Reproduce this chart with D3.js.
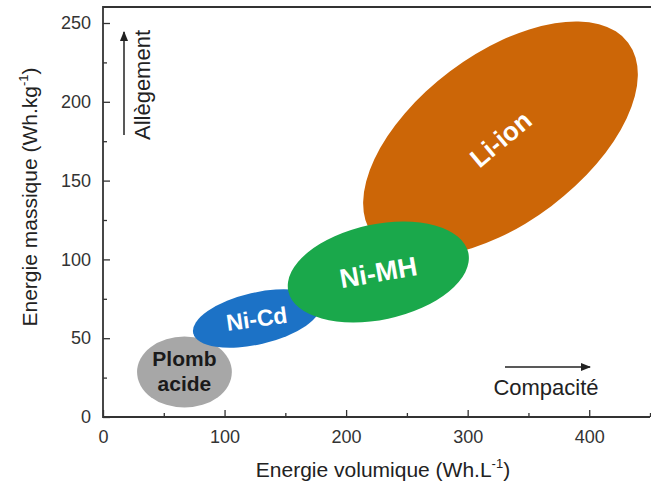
<!DOCTYPE html>
<html><head><meta charset="utf-8">
<script src="https://cdn.jsdelivr.net/npm/d3@7"></script>
<style>
body{margin:0;background:#fff;}
text{font-family:"Liberation Sans",Arial,sans-serif;}
</style></head>
<body><svg id="c" width="651" height="486"></svg>
<script>
// ---- data ----
const technologies = ["Plomb acide", "Ni-Cd", "Ni-MH", "Li-ion"];
// extents of each domain (Wh.L-1 and Wh.kg-1)
const volMin  = [28, 74, 152, 214];
const volMax  = [106, 179, 301, 440];
const massMin = [6, 44, 60, 102];
const massMax = [51, 81, 124, 251];
const xTicks = [0, 100, 200, 300, 400];
const yTicks = [0, 50, 100, 150, 200, 250];
const xMinor = [50, 150, 250, 350, 450];
const yMinor = [25, 75, 125, 175, 225];

// ---- styles ----
const fills = ["#a7a7a7", "#1c72c6", "#1aa84b", "#cc6607"];
const tilt  = [0, 13, 12, 37];
const labelColor = ["#1a1a1a", "#fff", "#fff", "#fff"];
const labelSize = [21, 23, 27, 26];
const labelRot = [0, -8, -10, -40];
const drawOrder = [3, 0, 1, 2];

const svg = d3.select("#c");
const x = d3.scaleLinear().domain([0, 450]).range([103, 650]);
const y = d3.scaleLinear().domain([0, 250]).range([417, 23]);
const yTop = 7;

const g = svg.append("g");
drawOrder.forEach(i => {
  const x0 = x(volMin[i]), x1 = x(volMax[i]);
  const y0 = y(massMax[i]), y1 = y(massMin[i]);
  const cx = (x0 + x1) / 2, cy = (y0 + y1) / 2;
  const hw = (x1 - x0) / 2, hh = (y1 - y0) / 2;
  const th = tilt[i] * Math.PI / 180;
  let a, b;
  if (tilt[i] === 0) { a = hw; b = hh; }
  else {
    const s = (hw*hw + hh*hh) / 2, d = (hw*hw - hh*hh) / (2 * Math.cos(2*th));
    a = Math.sqrt(s + d); b = Math.sqrt(Math.max(s - d, 1));
  }
  g.append("ellipse")
    .attr("transform", `translate(${cx},${cy}) rotate(${-tilt[i]})`)
    .attr("rx", a).attr("ry", b).attr("fill", fills[i]);
});

// labels
technologies.forEach((t, i) => {
  const cx = (x(volMin[i]) + x(volMax[i])) / 2;
  const cy = (y(massMax[i]) + y(massMin[i])) / 2;
  const txt = g.append("text")
    .attr("transform", `translate(${cx},${cy}) rotate(${labelRot[i]})`)
    .attr("text-anchor", "middle")
    .attr("font-weight", "bold")
    .attr("font-size", labelSize[i])
    .attr("fill", labelColor[i]);
  const words = t.split(" ");
  if (words.length === 2) {
    txt.append("tspan").attr("x", 0).attr("y", -6).text(words[0]);
    txt.append("tspan").attr("x", 0).attr("y", 19).text(words[1]);
  } else {
    txt.attr("dy", "0.36em").text(t);
  }
});

// axes
const axisColor = "#333";
const xAxis = svg.append("g").attr("transform", `translate(0,${y(0)})`)
  .call(d3.axisBottom(x).tickValues(xTicks).tickSizeInner(-7).tickSizeOuter(0).tickPadding(13));
const yAxis = svg.append("g").attr("transform", `translate(${x(0)},0)`)
  .call(d3.axisLeft(y).tickValues(yTicks).tickSizeInner(-7).tickSizeOuter(0).tickPadding(12));
[xAxis, yAxis].forEach(ax => {
  ax.select(".domain").remove();
  ax.selectAll("line").attr("stroke", axisColor).attr("stroke-width", 1.3);
  ax.selectAll("text").attr("font-size", 18).attr("fill", "#333")
    .style("font-family", "'Liberation Sans',Arial,sans-serif");
});
svg.append("g").attr("transform", `translate(0,${y(0)})`)
  .call(d3.axisBottom(x).tickValues(xMinor).tickSizeInner(-4).tickSizeOuter(0).tickFormat(""))
  .call(a => { a.select(".domain").remove(); a.selectAll("line").attr("stroke", axisColor).attr("stroke-width", 1.3); });
svg.append("g").attr("transform", `translate(${x(0)},0)`)
  .call(d3.axisLeft(y).tickValues(yMinor).tickSizeInner(-4).tickSizeOuter(0).tickFormat(""))
  .call(a => { a.select(".domain").remove(); a.selectAll("line").attr("stroke", axisColor).attr("stroke-width", 1.3); });

// frame lines
svg.append("path")
  .attr("d", `M${x(450)},${y(0)}H${x(0)}V${yTop}H651`)
  .attr("fill", "none").attr("stroke", axisColor).attr("stroke-width", 1.8);

// axis titles
const xt = svg.append("text").attr("x", 383).attr("y", 477).attr("text-anchor", "middle")
  .attr("font-size", 21).attr("fill", "#222");
xt.append("tspan").text("Energie volumique (Wh.L");
xt.append("tspan").attr("font-size", 13).attr("dy", -9).text("-1");
xt.append("tspan").attr("dy", 9).text(")");

const yt = svg.append("text").attr("transform", "translate(37,197) rotate(-90)")
  .attr("text-anchor", "middle").attr("font-size", 21).attr("fill", "#222");
yt.append("tspan").text("Energie massique (Wh.kg");
yt.append("tspan").attr("font-size", 13).attr("dy", -9).text("-1");
yt.append("tspan").attr("dy", 9).text(")");

// annotation arrows
svg.append("defs").append("marker").attr("id", "ah")
  .attr("viewBox", "0 0 10 10").attr("refX", 9).attr("refY", 5)
  .attr("markerWidth", 7).attr("markerHeight", 7).attr("orient", "auto")
  .append("path").attr("d", "M0,1L10,5L0,9Z").attr("fill", "#222");
svg.append("line").attr("x1", 124).attr("y1", 135).attr("x2", 124).attr("y2", 32)
  .attr("stroke", "#222").attr("stroke-width", 1.5).attr("marker-end", "url(#ah)");
svg.append("text").attr("transform", "translate(150,85) rotate(-90)")
  .attr("text-anchor", "middle").attr("font-size", 22).attr("fill", "#222").text("Allègement");
svg.append("line").attr("x1", 505).attr("y1", 367).attr("x2", 590).attr("y2", 367)
  .attr("stroke", "#222").attr("stroke-width", 1.5).attr("marker-end", "url(#ah)");
svg.append("text").attr("x", 546).attr("y", 395).attr("text-anchor", "middle")
  .attr("font-size", 22).attr("fill", "#222").text("Compacité");
</script></body></html>
